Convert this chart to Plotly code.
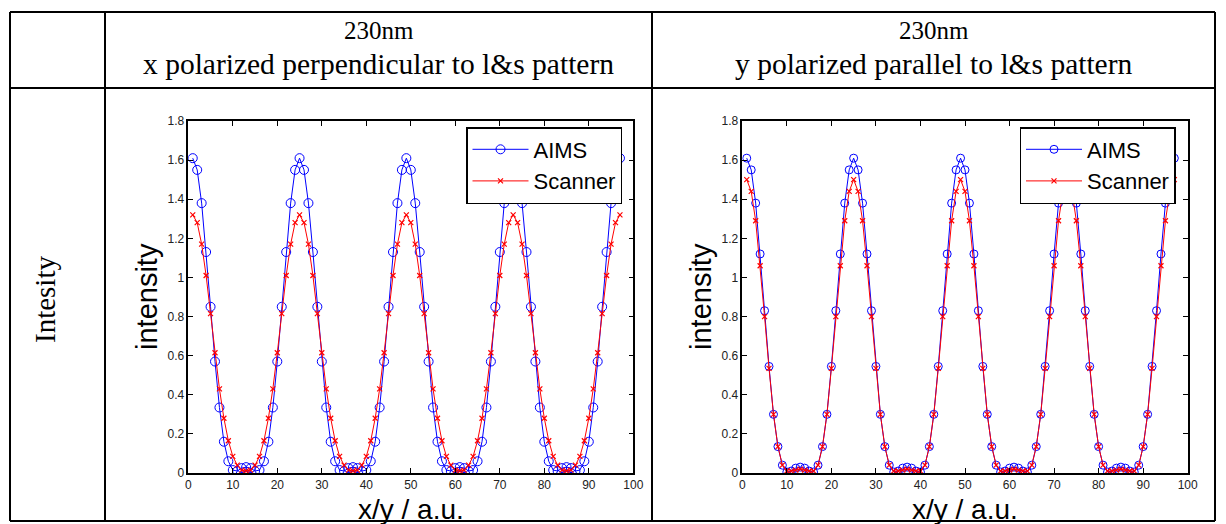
import plotly.graph_objects as go

W, H = 1226, 524

# ---------------- data ----------------
x_pos = list(range(1, 98))

aims_x = [
    1.61, 1.55, 1.38, 1.13, 0.85, 0.57, 0.335, 0.16, 0.06, 0.015, 0.01, 0.025, 0.03, 0.025, 0.01, 0.015, 0.06, 0.16, 0.335, 0.57, 0.85, 1.13, 1.38, 1.55,
    1.61, 1.55, 1.38, 1.13, 0.85, 0.57, 0.335, 0.16, 0.06, 0.015, 0.01, 0.025, 0.03, 0.025, 0.01, 0.015, 0.06, 0.16, 0.335, 0.57, 0.85, 1.13, 1.38, 1.55,
    1.61, 1.55, 1.38, 1.13, 0.85, 0.57, 0.335, 0.16, 0.06, 0.015, 0.01, 0.025, 0.03, 0.025, 0.01, 0.015, 0.06, 0.16, 0.335, 0.57, 0.85, 1.13, 1.38, 1.55,
    1.61, 1.55, 1.38, 1.13, 0.85, 0.57, 0.335, 0.16, 0.06, 0.015, 0.01, 0.025, 0.03, 0.025, 0.01, 0.015, 0.06, 0.16, 0.335, 0.57, 0.85, 1.13, 1.38, 1.55,
    1.61,
]
scanner_x = [
    1.32, 1.28, 1.17, 1.01, 0.815, 0.615, 0.43, 0.28, 0.165, 0.085, 0.04, 0.015, 0.01, 0.015, 0.04, 0.085, 0.165, 0.28, 0.43, 0.615, 0.815, 1.01, 1.17, 1.28,
    1.32, 1.28, 1.17, 1.01, 0.815, 0.615, 0.43, 0.28, 0.165, 0.085, 0.04, 0.015, 0.01, 0.015, 0.04, 0.085, 0.165, 0.28, 0.43, 0.615, 0.815, 1.01, 1.17, 1.28,
    1.32, 1.28, 1.17, 1.01, 0.815, 0.615, 0.43, 0.28, 0.165, 0.085, 0.04, 0.015, 0.01, 0.015, 0.04, 0.085, 0.165, 0.28, 0.43, 0.615, 0.815, 1.01, 1.17, 1.28,
    1.32, 1.28, 1.17, 1.01, 0.815, 0.615, 0.43, 0.28, 0.165, 0.085, 0.04, 0.015, 0.01, 0.015, 0.04, 0.085, 0.165, 0.28, 0.43, 0.615, 0.815, 1.01, 1.17, 1.28,
    1.32,
]
aims_y = [
    1.61, 1.55, 1.38, 1.12, 0.83, 0.545, 0.30, 0.135, 0.04, 0.005, 0.01, 0.025, 0.03, 0.025, 0.01, 0.005, 0.04, 0.135, 0.30, 0.545, 0.83, 1.12, 1.38, 1.55,
    1.61, 1.55, 1.38, 1.12, 0.83, 0.545, 0.30, 0.135, 0.04, 0.005, 0.01, 0.025, 0.03, 0.025, 0.01, 0.005, 0.04, 0.135, 0.30, 0.545, 0.83, 1.12, 1.38, 1.55,
    1.61, 1.55, 1.38, 1.12, 0.83, 0.545, 0.30, 0.135, 0.04, 0.005, 0.01, 0.025, 0.03, 0.025, 0.01, 0.005, 0.04, 0.135, 0.30, 0.545, 0.83, 1.12, 1.38, 1.55,
    1.61, 1.55, 1.38, 1.12, 0.83, 0.545, 0.30, 0.135, 0.04, 0.005, 0.01, 0.025, 0.03, 0.025, 0.01, 0.005, 0.04, 0.135, 0.30, 0.545, 0.83, 1.12, 1.38, 1.55,
    1.61,
]
scanner_y = [
    1.50, 1.44, 1.29, 1.06, 0.80, 0.535, 0.30, 0.135, 0.04, 0.01, 0.01, 0.015, 0.02, 0.015, 0.01, 0.01, 0.04, 0.135, 0.30, 0.535, 0.80, 1.06, 1.29, 1.44,
    1.50, 1.44, 1.29, 1.06, 0.80, 0.535, 0.30, 0.135, 0.04, 0.01, 0.01, 0.015, 0.02, 0.015, 0.01, 0.01, 0.04, 0.135, 0.30, 0.535, 0.80, 1.06, 1.29, 1.44,
    1.50, 1.44, 1.29, 1.06, 0.80, 0.535, 0.30, 0.135, 0.04, 0.01, 0.01, 0.015, 0.02, 0.015, 0.01, 0.01, 0.04, 0.135, 0.30, 0.535, 0.80, 1.06, 1.29, 1.44,
    1.50, 1.44, 1.29, 1.06, 0.80, 0.535, 0.30, 0.135, 0.04, 0.01, 0.01, 0.015, 0.02, 0.015, 0.01, 0.01, 0.04, 0.135, 0.30, 0.535, 0.80, 1.06, 1.29, 1.44,
    1.50,
]

x_ticks = [0, 10, 20, 30, 40, 50, 60, 70, 80, 90, 100]
y_ticks = [0, 0.2, 0.4, 0.6, 0.8, 1, 1.2, 1.4, 1.6, 1.8]
y_tick_text = ["0", "0.2", "0.4", "0.6", "0.8", "1", "1.2", "1.4", "1.6", "1.8"]

header_top = "230nm"
col_titles = ["x polarized perpendicular to l&s pattern", "y polarized parallel to l&s pattern"]
row_label = "Intesity"
series_names = ["AIMS", "Scanner"]

# ---------------- layout helpers ----------------
def px(xp):
    return xp / W

def py(yp):
    return 1 - yp / H

SANS = "Liberation Sans, Arial, sans-serif"
SERIF = "Liberation Serif, Times New Roman, serif"

fig = go.Figure()

panels = [
    dict(xa="x", ya="y", leg="legend", aims=aims_x, scan=scanner_x, msize=9),
    dict(xa="x2", ya="y2", leg="legend2", aims=aims_y, scan=scanner_y, msize=8),
]
for p in panels:
    fig.add_trace(go.Scatter(
        x=x_pos, y=p["aims"], name=series_names[0], mode="lines+markers",
        xaxis=p["xa"], yaxis=p["ya"], legend=p["leg"],
        line=dict(color="#0000ff", width=1),
        marker=dict(symbol="circle-open", size=p["msize"], color="#0000ff", line=dict(width=1)),
    ))
    fig.add_trace(go.Scatter(
        x=x_pos, y=p["scan"], name=series_names[1], mode="lines+markers",
        xaxis=p["xa"], yaxis=p["ya"], legend=p["leg"],
        line=dict(color="#ff0000", width=1),
        marker=dict(symbol="x-thin", size=5, color="#ff0000", line=dict(width=1.2, color="#ff0000")),
    ))

axis_common = dict(
    showline=True, linecolor="black", linewidth=1.5, mirror="ticks",
    ticks="inside", ticklen=5, tickwidth=1, tickcolor="black",
    showgrid=False, zeroline=False, automargin=False,
    tickfont=dict(family=SANS, size=12, color="#222222"),
)
xdom1 = [px(188.3), px(633.3)]
xdom2 = [px(742.3), px(1187.7)]
ydom = [py(473), py(121)]

legend_common = dict(xanchor="left", yanchor="top",
                     bgcolor="white", bordercolor="black", borderwidth=1.5,
                     font=dict(family=SANS, size=22, color="black"),
                     tracegroupgap=0, itemwidth=56)

fig.update_layout(
    template="none",
    width=W, height=H,
    margin=dict(l=0, r=0, t=0, b=0, autoexpand=False),
    paper_bgcolor="white", plot_bgcolor="white",
    showlegend=True,
    xaxis=dict(domain=xdom1, range=[0, 100], tickvals=x_ticks, anchor="y", **axis_common),
    yaxis=dict(domain=ydom, range=[0, 1.8], tickvals=y_ticks, ticktext=y_tick_text, anchor="x", **axis_common),
    xaxis2=dict(domain=xdom2, range=[0, 100], tickvals=x_ticks, anchor="y2", **axis_common),
    yaxis2=dict(domain=ydom, range=[0, 1.8], tickvals=y_ticks, ticktext=y_tick_text, anchor="x2", **axis_common),
    legend=dict(x=px(466), y=py(127), **legend_common),
    legend2=dict(x=px(1019.5), y=py(127), **legend_common),
)

# table lines
lw = 2
lines = [
    (10, 12, 1215, 12), (10, 88, 1215, 88), (10, 521, 1215, 521),
    (10, 12, 10, 521), (105, 12, 105, 521), (652, 12, 652, 521), (1215, 12, 1215, 521),
]
for (x0, y0, x1, y1) in lines:
    fig.add_shape(type="line", xref="paper", yref="paper",
                  x0=px(x0), y0=py(y0), x1=px(x1), y1=py(y1),
                  line=dict(color="black", width=lw))

ann = []
for cx, title in [(378.5, col_titles[0]), (933.5, col_titles[1])]:
    ann.append(dict(x=px(cx), y=py(30), text=header_top,
                    font=dict(family=SERIF, size=25, color="black")))
    ann.append(dict(x=px(cx), y=py(64), text=title,
                    font=dict(family=SERIF, size=29.5, color="black")))
ann.append(dict(x=px(45), y=py(300), text=row_label, textangle=-90,
                font=dict(family=SERIF, size=29, color="black")))
for cx, lx in [(410.8, 147), (965, 701)]:
    ann.append(dict(x=px(cx), y=py(509), text="x/y / a.u.",
                    font=dict(family=SANS, size=28, color="black")))
    ann.append(dict(x=px(lx), y=py(297), text="intensity", textangle=-90,
                    font=dict(family=SANS, size=29, color="black")))
for a in ann:
    a.update(xref="paper", yref="paper", showarrow=False, xanchor="center", yanchor="middle")
fig.update_layout(annotations=ann)

fig.write_html("out.html", config={"displayModeBar": False},
               post_script="document.body.style.margin='0px';document.body.style.overflow='hidden';")
